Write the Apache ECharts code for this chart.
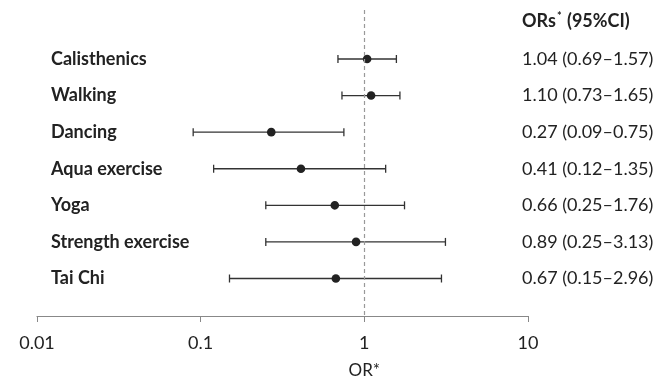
<!DOCTYPE html>
<html><head><meta charset="utf-8">
<script src="https://cdn.jsdelivr.net/npm/echarts@6/dist/echarts.min.js"></script>
<style>html,body{margin:0;padding:0;background:#fff}#c{width:667px;height:387px}</style>
</head><body><div id="c"></div>
<script>
var categories = ['Calisthenics','Walking','Dancing','Aqua exercise','Yoga','Strength exercise','Tai Chi'];
var orValues = [1.04, 1.10, 0.27, 0.41, 0.66, 0.89, 0.67];
var lowerCI = [0.69, 0.73, 0.09, 0.12, 0.25, 0.25, 0.15];
var upperCI = [1.57, 1.65, 0.75, 1.35, 1.76, 3.13, 2.96];
var ciLabels = ['1.04 (0.69\u20131.57)','1.10 (0.73\u20131.65)','0.27 (0.09\u20130.75)','0.41 (0.12\u20131.35)','0.66 (0.25\u20131.76)','0.89 (0.25\u20133.13)','0.67 (0.15\u20132.96)'];
var xTicks = [0.01, 0.1, 1, 10];
var xAxisName = 'OR*';

var FONT = 'Lato, "Open Sans", sans-serif';
var chart = echarts.init(document.getElementById('c'));
var data = categories.map(function(c,i){return [orValues[i], i, lowerCI[i], upperCI[i]];});

chart.setOption({
  animation:false,
  grid:{left:37, right:139, top:10, bottom:71},
  xAxis:{type:'log', logBase:10, min:xTicks[0], max:xTicks[xTicks.length-1],
    axisLine:{onZero:false, lineStyle:{color:'#888', width:1.2}},
    axisTick:{show:true, length:6, lineStyle:{color:'#888'}},
    axisLabel:{fontFamily:FONT, fontSize:18, color:'#222', margin:18,
      formatter:function(v){return String(v);}},
    splitLine:{show:false}},
  yAxis:{type:'value', inverse:true, min:-1.339, max:7.025, show:false},
  series:[{
    type:'custom', clip:false,
    data:data,
    renderItem:function(params, api){
      var y = api.value(1);
      var p = api.coord([api.value(0), y]);
      var lo = api.coord([api.value(2), y]);
      var hi = api.coord([api.value(3), y]);
      var st = {stroke:'#333', lineWidth:1.3};
      var kids = [
        {type:'line', shape:{x1:lo[0],y1:p[1],x2:hi[0],y2:p[1]}, style:st},
        {type:'line', shape:{x1:lo[0],y1:p[1]-4,x2:lo[0],y2:p[1]+4}, style:st},
        {type:'line', shape:{x1:hi[0],y1:p[1]-4,x2:hi[0],y2:p[1]+4}, style:st},
        {type:'circle', shape:{cx:p[0],cy:p[1],r:4.3}, style:{fill:'#222'}},
        {type:'text', x:51, y:p[1], style:{text:categories[params.dataIndex], font:'bold 18px '+FONT, fill:'#222', verticalAlign:'middle', align:'left'}},
        {type:'text', x:522, y:p[1], style:{text:ciLabels[params.dataIndex], font:'18px '+FONT, fill:'#222', verticalAlign:'middle', align:'left'}}
      ];
      if (params.dataIndex === 0) {
        var one = api.coord([1, y]);
        kids.push({type:'text', x:one[0], y:371, style:{text:xAxisName, font:'17px '+FONT, fill:'#222', verticalAlign:'middle', align:'center'}});
      }
      return {type:'group', children:kids};
    },
    markLine:{silent:true, symbol:'none', label:{show:false},
      lineStyle:{type:[4,3], color:'#999', width:1.2},
      data:[{xAxis:1}]}
  }],
  graphic:[{type:'text', left:522, top:11, style:{rich:{b:{font:'bold 18px '+FONT, fill:'#222'}, s:{font:'bold 11px '+FONT, fill:'#222', verticalAlign:'top', padding:[0,1,9,1]}}, text:'{b|ORs}{s|*}{b| (95%CI)}'}}]
});
</script></body></html>
